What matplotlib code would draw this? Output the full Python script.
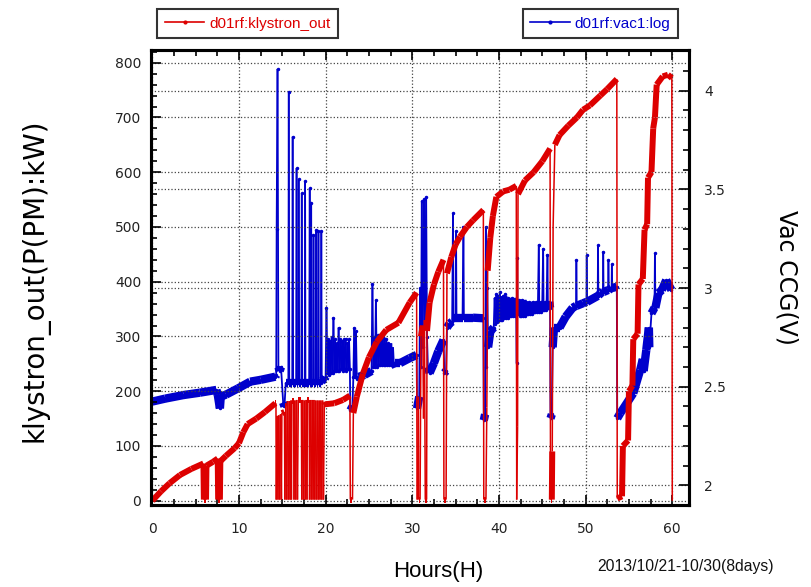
import numpy as np
import matplotlib
matplotlib.use('Agg')
import matplotlib.pyplot as plt
from matplotlib.collections import LineCollection
from matplotlib.lines import Line2D
from matplotlib.ticker import MultipleLocator, FuncFormatter

# klystron output power (kW) vs elapsed hours
kly_h = [0.0, 1.0, 2.0, 3.2, 4.5, 5.9, 5.95, 6.2, 6.25, 7.0, 7.55, 7.6, 7.8, 7.85,
         8.5, 9.5, 10.0, 10.5, 11.0, 12.0, 13.0, 14.2,
         14.27, 14.3, 14.4, 14.5, 14.6, 14.7, 14.8, 14.9, 14.95, 15.25, 15.3, 15.4,
         15.5, 15.6, 15.7, 15.8, 15.9, 16.0, 16.05, 16.1, 16.3, 16.35, 16.45, 16.55,
         16.65, 16.75, 16.85, 17.2, 17.25, 17.35, 17.45, 17.55, 17.65, 17.75, 17.85,
         17.9, 18.1, 18.15, 18.25, 18.35, 18.45, 18.55, 18.65, 18.75, 18.85, 18.95,
         19.05, 19.15, 19.25, 19.35, 19.45, 19.55, 19.65, 19.75, 19.85, 19.9,
         21.0, 22.0, 22.8, 22.85, 23.1, 23.2, 23.6, 24.3, 25.0, 25.9, 27.0, 28.4,
         29.7, 30.5, 30.55, 30.6, 30.7, 30.75, 30.9, 31.0, 31.2, 31.3, 31.4, 31.5,
         31.65, 31.7, 32.0, 32.5, 33.0, 33.6, 33.65, 33.9, 34.0, 34.5, 35.0, 35.5,
         36.3, 37.0, 38.2, 38.25, 38.5, 38.6, 38.7, 39.0, 39.3, 39.7, 40.5, 41.2,
         42.0, 42.05, 42.15, 42.2, 43.0, 44.0, 45.0, 45.9, 45.95, 46.1, 46.15, 46.25,
         46.45, 47.0, 48.0, 49.0, 49.7, 50.5, 51.7, 52.5, 53.6, 53.65, 54.2, 54.3,
         54.9, 55.0, 55.4, 55.5, 56.0, 56.1, 56.6, 56.8, 57.1, 57.2, 57.6, 57.8,
         58.0, 58.2, 58.9, 59.5, 59.95, 60.0]
kly_kw = [0, 17, 32, 47, 58, 68, 2, 2, 64, 71, 77, 2, 2, 72,
          82, 96, 105, 125, 140, 150, 162, 178,
          178, 2, 155, 2, 156, 2, 158, 2, 160, 162, 2, 178,
          2, 182, 2, 182, 2, 183, 2, 183, 183, 2, 183, 2,
          184, 2, 184, 184, 2, 184, 2, 183, 2, 184, 2,
          184, 184, 2, 184, 2, 184, 2, 184, 2, 183, 2,
          183, 2, 183, 2, 183, 2, 183, 2, 180, 176,
          178, 184, 192, 2, 2, 160, 190, 232, 262, 290, 312, 325,
          362, 380, 2, 2, 190, 2, 2, 300, 320, 150, 330, 2,
          2, 310, 362, 395, 418, 440, 2, 2, 415, 445, 468, 482,
          500, 512, 531, 2, 2, 170, 420, 480, 520, 555, 565, 568,
          575, 2, 135, 560, 585, 600, 620, 643, 2, 2, 90, 500,
          650, 668, 685, 700, 714, 722, 740, 752, 770, 4, 8, 100,
          110, 200, 210, 295, 305, 395, 405, 495, 505, 590, 600, 680,
          700, 760, 775, 778, 772, 0]

# vacuum gauge (CCG, V) vs elapsed hours
vac_h = [0.0, 1.5, 3.6, 5.5, 7.4, 7.55, 7.8, 7.9, 8.5, 9.9, 11.3, 12.5, 14.2,
         14.3, 14.35, 14.45, 14.55, 14.7, 14.85, 15.1, 15.25, 15.4, 15.7, 15.75, 15.8,
         16.15, 16.2, 16.25, 16.6, 16.65, 16.7, 16.85, 16.9, 16.95, 17.2, 17.25, 17.3,
         17.6, 17.63, 17.67, 18.1, 18.17, 18.22, 18.3, 18.33, 18.37, 18.55, 18.6, 18.65,
         18.85, 18.9, 18.95, 19.12, 19.17, 19.22, 19.45, 19.5, 19.55, 19.9,
         20.0, 20.1, 20.2, 20.3, 20.4, 20.5, 20.6, 20.7, 20.8, 20.9, 21.0, 21.1,
         21.2, 21.3, 21.4, 21.5, 21.6, 21.7, 21.8, 21.9, 22.0, 22.1, 22.2, 22.3,
         22.4, 22.5, 22.6, 22.7, 22.8,
         22.85, 23.1, 23.2, 23.3, 23.4, 23.5, 23.6, 23.8, 24.5,
         25.3, 25.4, 25.5, 25.6, 25.7, 25.8, 25.9, 26.0, 26.1, 26.2, 26.3, 26.4,
         26.5, 26.6, 26.7, 26.8, 26.9, 27.0, 27.1, 27.2, 27.3, 27.4, 27.5,
         28.0, 28.6, 29.7, 30.5, 30.55, 30.8, 30.9, 31.0, 31.1, 31.2, 31.35, 31.45,
         31.6, 31.7, 31.8, 32.0, 32.5, 33.0, 33.6, 33.7, 33.9, 34.0, 34.3, 34.6,
         34.7, 34.75, 35.0, 35.05, 35.1, 35.8, 35.9, 35.95, 37.0, 38.2, 38.25, 38.4,
         38.5, 38.55, 38.65, 38.75, 39.0,
         39.4, 39.5, 39.6, 39.7, 39.8, 39.9, 40.0, 40.1, 40.2, 40.3, 40.4, 40.5,
         40.6, 40.7, 40.8, 40.9, 41.0, 41.1, 41.2, 41.3, 41.4, 41.5, 41.6, 41.7,
         41.8, 41.9, 42.0, 42.05, 42.1, 42.15, 42.3, 42.4, 42.5, 42.6, 42.7, 42.8,
         42.9, 43.0, 43.1, 43.2, 43.3, 43.4, 43.5, 43.6, 43.7, 43.8, 43.9, 44.0,
         44.1, 44.2, 44.3, 44.4, 44.5, 44.6, 44.65, 44.8, 44.9, 45.0, 45.1, 45.15,
         45.3, 45.4, 45.5, 45.6, 45.65, 45.8, 45.9,
         45.95, 46.1, 46.2, 46.35, 47.0, 47.7, 48.5, 48.9, 48.93,
         48.97, 49.7, 50.1, 50.13, 50.17, 51.4, 51.43, 51.47, 51.7, 52.0, 52.03, 52.07,
         52.6, 52.63, 52.67, 53.0, 53.03, 53.07, 53.6, 53.65, 54.0, 55.5, 56.3, 56.6,
         56.7, 57.0, 57.3, 57.35, 57.6, 57.95, 58.0, 58.05, 58.4, 58.8, 59.3, 59.9]
vac_v = [2.425, 2.44, 2.458, 2.47, 2.484, 2.46, 2.39, 2.45, 2.46, 2.492, 2.526, 2.535, 2.551,
         2.56, 3.3, 4.11, 2.6, 2.58, 2.6, 2.42, 2.40, 2.52, 2.52, 3.995, 2.52,
         2.52, 3.767, 2.52, 2.52, 3.607, 2.52, 2.52, 3.55, 2.52, 2.52, 3.48, 2.52,
         2.52, 3.54, 2.52, 2.52, 3.506, 2.52, 2.52, 3.43, 2.52, 2.52, 3.27, 2.52,
         2.52, 3.294, 2.52, 2.52, 3.29, 2.52, 2.52, 3.29, 2.53, 2.54,
         2.55, 2.90, 2.57, 2.74, 2.56, 2.73, 2.57, 2.75, 2.57, 2.85, 2.58, 2.74,
         2.58, 2.72, 2.58, 2.80, 2.58, 2.74, 2.59, 2.73, 2.58, 2.74, 2.59, 2.74,
         2.58, 2.72, 2.59, 2.74, 2.59,
         2.38, 2.40, 2.55, 2.80, 2.55, 2.78, 2.54, 2.55, 2.56,
         2.58, 3.02, 2.60, 2.75, 2.60, 2.94, 2.60, 2.76, 2.61, 2.75, 2.61, 2.74,
         2.61, 2.75, 2.61, 2.74, 2.61, 2.74, 2.61, 2.72, 2.61, 2.70, 2.61,
         2.62, 2.62, 2.645, 2.661, 2.39, 2.45, 3.0, 2.6, 3.44, 2.7, 3.45, 2.8,
         3.46, 2.75, 2.6, 2.57, 2.62, 2.68, 2.737, 2.57, 2.58, 2.80, 2.82, 2.83,
         3.38, 2.85, 2.85, 3.29, 2.85, 2.85, 3.31, 2.85, 2.85, 2.847, 2.33, 2.36,
         3.31, 2.6, 3.0, 2.7, 2.78,
         2.80, 2.95, 2.82, 2.97, 2.83, 2.96, 2.84, 2.98, 2.84, 2.95, 2.84, 2.96,
         2.85, 2.97, 2.85, 2.94, 2.85, 2.95, 2.86, 2.93, 2.86, 2.95, 2.86, 2.93,
         2.86, 2.94, 2.87, 2.62, 3.15, 2.87, 2.94, 2.86, 2.93, 2.86, 2.94, 2.86,
         2.92, 2.86, 2.93, 2.87, 2.92, 2.87, 2.93, 2.87, 2.92, 2.87, 2.93, 2.88,
         2.92, 2.88, 2.93, 2.88, 2.92, 3.22, 2.88, 2.93, 2.88, 2.93, 3.20, 2.89,
         2.93, 2.89, 2.93, 3.17, 2.90, 2.93, 2.90,
         2.34, 2.36, 2.7, 2.80, 2.80, 2.855, 2.90, 2.91, 3.14,
         2.91, 2.923, 2.93, 3.165, 2.93, 2.96, 3.218, 2.96, 2.974, 2.98, 3.185, 2.98,
         2.99, 3.14, 2.99, 3.0, 3.12, 3.0, 3.007, 2.34, 2.366, 2.467, 2.585, 2.64,
         2.58, 2.686, 2.80, 2.70, 2.872, 2.9, 3.176, 2.9, 2.974, 2.99, 3.04, 2.99]

red = '#dd0000'
blue = '#0000cc'


def trace(axis, xs, ys, color, thick, thin, jump):
    # noisy baseline drawn thick, fast jumps/spikes drawn thin
    xs = np.asarray(xs, float)
    ys = np.asarray(ys, float)
    pts = np.column_stack([xs, ys]).reshape(-1, 1, 2)
    segs = np.concatenate([pts[:-1], pts[1:]], axis=1)
    widths = np.where(np.abs(np.diff(ys)) > jump, thin, thick)
    lc = LineCollection(segs, colors=color, linewidths=widths, capstyle='butt',
                        joinstyle='round')
    axis.add_collection(lc)


fig = plt.figure(figsize=(8.11, 5.87), dpi=100)
ax = fig.add_axes([151/811, 1-505/587, 538/811, 455/587])
ax2 = ax.twinx()
ax.set_zorder(ax2.get_zorder() + 1)
ax.patch.set_visible(False)

trace(ax2, vac_h, vac_v, blue, 6.0, 1.3, 0.12)
ax2.plot(vac_h, vac_v, ls='none', marker='.', ms=3, color=blue)
trace(ax, kly_h, kly_kw, red, 4.3, 1.1, 100)

ax.set_xlim(-0.15, 61.93)
ax.set_ylim(-7.85, 823.2)
ax2.set_ylim(1.901, 4.206)

ax.xaxis.set_major_locator(MultipleLocator(10))
ax.xaxis.set_minor_locator(MultipleLocator(2.5))
ax.yaxis.set_major_locator(MultipleLocator(100))
ax.yaxis.set_minor_locator(MultipleLocator(20))
ax2.yaxis.set_major_locator(MultipleLocator(0.5))
ax2.yaxis.set_minor_locator(MultipleLocator(0.1))
ax2.yaxis.set_major_formatter(FuncFormatter(lambda v, p: '%g' % v))

ax.tick_params(which='both', direction='in', top=True, right=False, width=1.2,
               labelsize=10, labelcolor='#222')
ax.tick_params(which='major', length=7)
ax.tick_params(which='minor', length=4)
ax.tick_params(axis='y', pad=7)
ax.tick_params(axis='x', pad=12)
ax2.tick_params(which='both', direction='in', width=1.2, labelsize=10,
                labelcolor='#222', pad=11)
ax2.tick_params(which='major', length=7)
ax2.tick_params(which='minor', length=4)

grid_kw = dict(ls=':', color='#444444', lw=0.9)
ax.grid(which='major', axis='both', **grid_kw)
ax2.grid(which='major', axis='y', **grid_kw)

for a in (ax, ax2):
    for s in a.spines.values():
        s.set_linewidth(2.2)

ax.set_xlabel('Hours(H)', fontsize=16, family='Liberation Sans', va='center')
ax.xaxis.set_label_coords((438-151)/538, (505-572)/455)
ax.set_ylabel('klystron_out(P(PM):kW)', fontsize=20, va='center')
ax.yaxis.set_label_coords((35-151)/538, (505-280)/455)
ax2.set_ylabel('Vac CCG(V)', fontsize=17, rotation=-90, va='center')
ax2.yaxis.set_label_coords((786-151)/538, (505-277)/455)

fig.text(685/811, 1-566/587, '2013/10/21-10/30(8days)', ha='center', va='center',
         family='Liberation Sans', fontsize=11.3, color='#111')

leg_kw = dict(frameon=True, fancybox=False, edgecolor='#333333', framealpha=1,
              handlelength=2.6, handletextpad=0.3, borderpad=0.5, borderaxespad=0,
              numpoints=1, labelcolor='linecolor',
              prop={'family': 'Liberation Sans', 'size': 11})
h_red = Line2D([], [], color=red, lw=1.2, marker='.', ms=4)
h_blue = Line2D([], [], color=blue, lw=1.2, marker='.', ms=4)
leg1 = fig.legend([h_red], ['d01rf:klystron_out'], loc='upper left',
                  bbox_to_anchor=(157/811, 1-9/587), **leg_kw)
leg2 = fig.legend([h_blue], ['d01rf:vac1:log'], loc='upper right',
                  bbox_to_anchor=(678/811, 1-9/587), **leg_kw)
for lg in (leg1, leg2):
    lg.get_frame().set_linewidth(1.5)

fig.savefig('out.png', dpi=100)
